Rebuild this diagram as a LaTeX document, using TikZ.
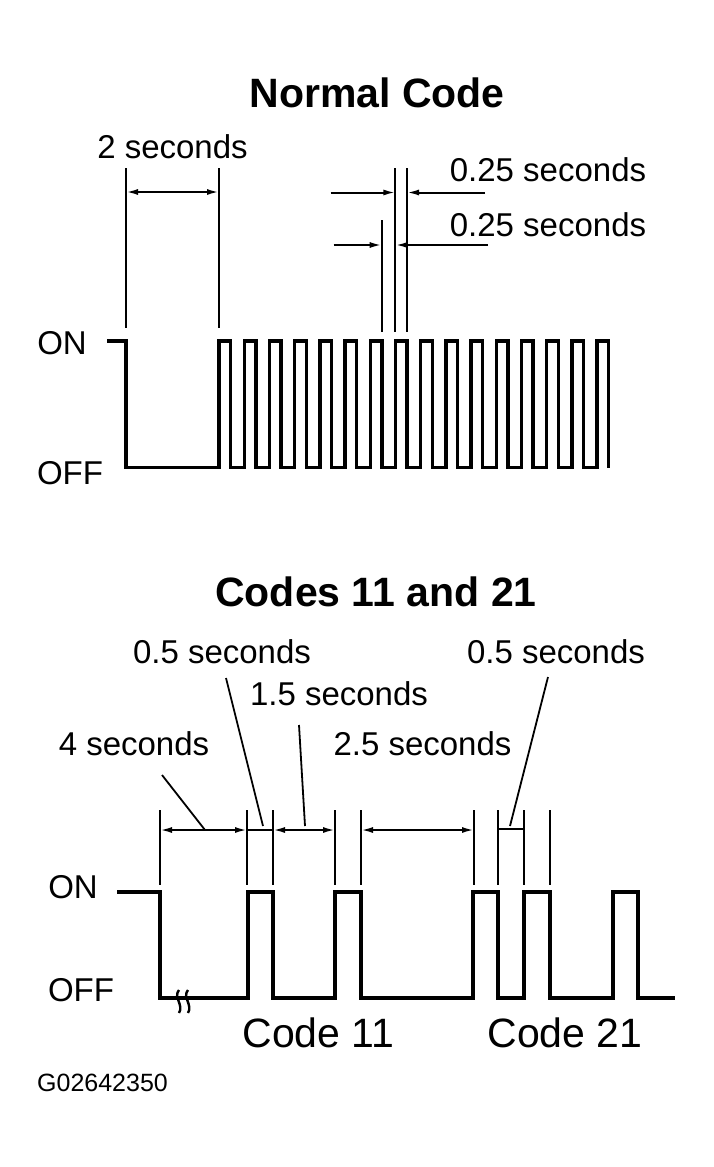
\documentclass[tikz,border=0pt]{standalone}
\usepackage{fontspec}
\setmainfont{Liberation Sans}
\usetikzlibrary{arrows.meta}
\begin{document}
\begin{tikzpicture}[x=1pt,y=-1pt,
  wave/.style={line width=3.4pt, line join=miter},
  dimline/.style={line width=2pt},
  tickline/.style={line width=2pt},
  leader/.style={line width=1.8pt},
  arr/.style={line width=2pt, -{Latex[length=12pt,width=6pt]}},
  darr/.style={line width=2pt, {Latex[length=12pt,width=6pt]}-{Latex[length=12pt,width=6pt]}},
  lab/.style={inner sep=0pt, font=\fontsize{33}{40}\selectfont},
  codelab/.style={inner sep=0pt, font=\fontsize{41}{48}\selectfont},
  title/.style={inner sep=0pt, font=\bfseries\fontsize{41}{48}\selectfont},
  idlab/.style={inner sep=0pt, font=\fontsize{25}{30}\selectfont}]
\useasboundingbox (0,0) rectangle (713,1167);
\fill[white] (0,0) rectangle (713,1167);

% ---------- Normal Code ----------
\node[title] (t1) at (377,93) {Normal Code};
\node[lab] (on1) at (62,343) {ON};
\node[lab] (off1) at (70,473) {OFF};
\node[lab] (s2) at (172.5,147) {2 seconds};
\node[lab] (q1) at (548,170) {0.25 seconds};
\node[lab] (q2) at (548,225) {0.25 seconds};

\draw[wave] (107,341) -- (126,341) -- (126,467.5)
  foreach \k in {0,...,15} {
    -- ({219+25.2*\k},467.5) -- ({219+25.2*\k},341)
    -- ({230.7+25.2*\k},341) -- ({230.7+25.2*\k},467.5) };

% extension lines
\coordinate (a1) at (126,168); \coordinate (a2) at (126,328);
\coordinate (b1) at (219,168); \coordinate (b2) at (219,328);
\coordinate (c1) at (381.7,220); \coordinate (c2) at (381.7,332);
\coordinate (d1) at (395.4,168); \coordinate (d2) at (395.4,332);
\coordinate (e1) at (407,168); \coordinate (e2) at (407,332);
\draw[tickline] (a1) -- (a2);
\draw[tickline] (b1) -- (b2);
\draw[tickline] (c1) -- (c2);
\draw[tickline] (d1) -- (d2);
\draw[tickline] (e1) -- (e2);

% dimension arrows
\coordinate (dl1) at (126,192); \coordinate (dr1) at (219,192);
\draw[darr] (dl1) -- (dr1);
\coordinate (u1) at (330.6,192.5); \coordinate (u2) at (395.4,192.5);
\coordinate (u3) at (485,192.5); \coordinate (u4) at (407,192.5);
\draw[arr] (u1) -- (u2);
\draw[arr] (u3) -- (u4);
\coordinate (w1) at (333.5,245); \coordinate (w2) at (381.7,245);
\coordinate (w3) at (488,245); \coordinate (w4) at (395.4,245);
\draw[arr] (w1) -- (w2);
\draw[arr] (w3) -- (w4);

% ---------- Codes 11 and 21 ----------
\node[title] (t2) at (376,592) {Codes 11 and 21};
\node[lab] (on2) at (73,887) {ON};
\node[lab] (off2) at (81,990) {OFF};
\node[lab] (h1) at (222,652) {0.5 seconds};
\node[lab] (h2) at (556,652) {0.5 seconds};
\node[lab] (f1) at (339,694) {1.5 seconds};
\node[lab] (g4) at (134,744) {4 seconds};
\node[lab] (g25) at (422.5,744) {2.5 seconds};
\node[codelab] (c11) at (318.5,1033) {Code 11};
\node[codelab] (c21) at (565,1033) {Code 21};
\node[idlab] (gid) at (102.5,1083) {G02642350};

\draw[wave] (117,892) -- (160,892) -- (160,998) -- (248,998) -- (248,892)
  -- (273,892) -- (273,998) -- (335,998) -- (335,892) -- (361,892)
  -- (361,998) -- (473,998) -- (473,892) -- (498,892) -- (498,998)
  -- (524,998) -- (524,892) -- (550,892) -- (550,998) -- (613,998)
  -- (613,892) -- (638,892) -- (638,998) -- (675,998);

% break mark
\draw[line width=2.4pt] (179,990) .. controls (173,997) and (184,1005) .. (179,1013);
\draw[line width=2.4pt] (188,990) .. controls (182,997) and (193,1005) .. (188,1013);

% extension lines
\foreach \n/\x in {p1/160,p2/247,p3/273,p4/335,p5/361,p6/474,p7/498,p8/524,p9/550} {
  \coordinate (\n t) at (\x,810);
  \coordinate (\n b) at (\x,885);
  \draw[tickline] (\n t) -- (\n b);
}
\coordinate (m1) at (160,830); \coordinate (m2) at (247,830);
\coordinate (m3) at (273,830); \coordinate (m4) at (335,830);
\coordinate (m5) at (361,830); \coordinate (m6) at (474,830);
\coordinate (m7) at (498,829); \coordinate (m8) at (524,829);
\draw[darr] (m1) -- (m2);
\draw[dimline] (m2) -- (m3);
\draw[darr] (m3) -- (m4);
\draw[darr] (m5) -- (m6);
\draw[dimline] (m7) -- (m8);

% leaders
\coordinate (l1a) at (162,775); \coordinate (l1b) at (205,830);
\coordinate (l2a) at (226,678); \coordinate (l2b) at (263,826);
\coordinate (l3a) at (299,725); \coordinate (l3b) at (305,826);
\coordinate (l4a) at (548,677); \coordinate (l4b) at (510,826);
\draw[leader] (l1a) -- (l1b);
\draw[leader] (l2a) -- (l2b);
\draw[leader] (l3a) -- (l3b);
\draw[leader] (l4a) -- (l4b);
\end{tikzpicture}
\end{document}
